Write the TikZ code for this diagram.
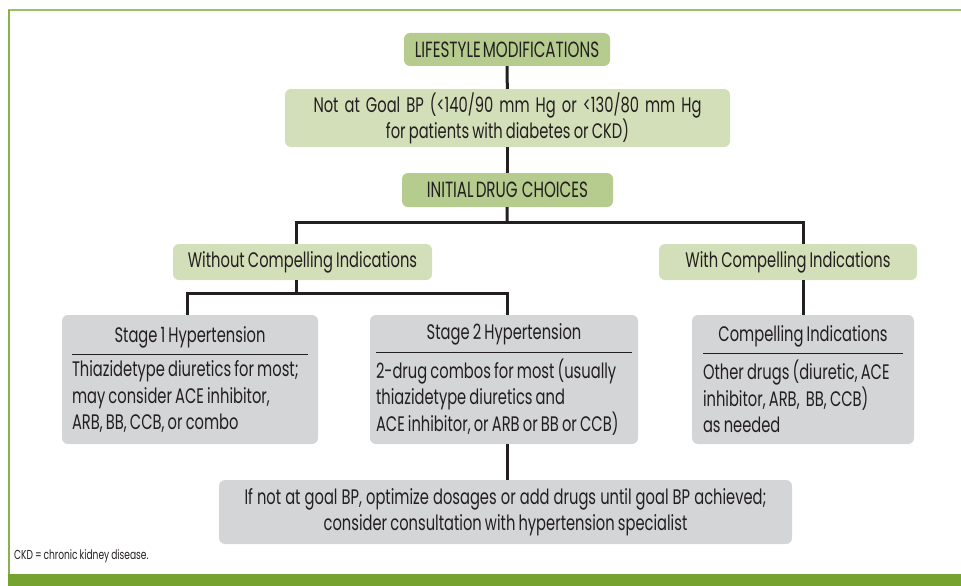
\documentclass[tikz,border=0pt]{standalone}
\usepackage{fontspec}
\setmainfont{Poppins}[FakeStretch=0.7, WordSpace=0.8]
\newfontfamily\capsfont{Poppins}[FakeStretch=0.69, WordSpace=0.5]
\usetikzlibrary{positioning,calc}

\definecolor{boxdark}{HTML}{B6CB8E}
\definecolor{boxlight}{HTML}{D3DFB8}
\definecolor{boxgray}{HTML}{D4D5D7}
\definecolor{inkcol}{HTML}{231F20}
\definecolor{frametop}{HTML}{9CC063}
\definecolor{frameband}{HTML}{76A22F}

\tikzset{
  darkbox/.style={fill=boxdark, rounded corners=6pt, inner sep=0pt, text=inkcol,
    font=\capsfont\fontsize{22}{24}\selectfont},
  lightbox/.style={fill=boxlight, rounded corners=6pt, inner sep=0pt, text=inkcol,
    align=center, font=\fontsize{21}{22.5}\selectfont},
  graybox/.style={fill=boxgray, rounded corners=6pt, inner sep=0pt, text=inkcol,
    align=flush left, font=\fontsize{21}{26.5}\selectfont},
  link/.style={draw=inkcol, line width=3pt},
}

% title over a rule, then the body text
\newcommand{\stagetext}[2]{%
  {\centering #1\par}\vspace{6pt}\hrule height 0.9pt\vspace{6pt}#2}

\begin{document}
\begin{tikzpicture}[x=1pt, y=-1pt]
    \useasboundingbox (0,0) rectangle (961,586);

    % frame
    \draw[frametop, line width=2pt] (8,10.5) -- (961,10.5);
    \draw[frameband!85!white, line width=2pt] (9,10) -- (9,575);
    \fill[frameband] (8,574) rectangle (961,586);

    % top chain
    \node[darkbox, minimum width=206, minimum height=33] (lifestyle) at (507,49.5) {LIFESTYLE MODIFICATIONS};
    \node[lightbox, minimum width=445, minimum height=58] (goal) at (507.5,118)
        {\makebox[388pt][s]{Not at Goal BP (<140/90 mm Hg or <130/80 mm Hg}\\for patients with diabetes or CKD)};
    \node[darkbox, minimum width=211, minimum height=34] (initial) at (507.5,190) {INITIAL DRUG\ \ CHOICES};

    % branches
    \node[lightbox, minimum width=259, minimum height=36] (without) at (302.5,262) {Without Compelling Indications};
    \node[lightbox, minimum width=258, minimum height=36] (with) at (788,262) {With Compelling Indications};

    \node[graybox, minimum width=256, minimum height=129, text width=236pt] (stageone) at (190,379.5)
        {\stagetext{Stage 1 Hypertension}{Thiazidetype diuretics for most;\\may consider ACE inhibitor,\\ARB, BB, CCB, or combo}};
    \node[graybox, minimum width=268, minimum height=129, text width=256pt] (stagetwo) at (504,379.5)
        {\stagetext{Stage 2 Hypertension}{2-drug combos for most (usually\\thiazidetype diuretics and\\ACE inhibitor, or ARB or BB or CCB)}};
    \node[graybox, minimum width=222, minimum height=129, text width=200pt] (compelling) at (803,379.5)
        {\stagetext{Compelling Indications}{Other drugs (diuretic, ACE\\inhibitor, ARB,\ \ BB, CCB)\\as needed}};

    \node[graybox, align=center, font=\fontsize{21}{26}\selectfont, minimum width=573, minimum height=64] (final) at (505.5,512)
        {\makebox[522pt][s]{If not at goal BP, optimize dosages or add drugs until goal BP achieved;}\\consider consultation with hypertension specialist};

    \node[anchor=west, inner sep=0pt, text=inkcol, font=\fontsize{13}{15}\selectfont] (note) at (14,556) {CKD = chronic kidney disease.};

    % connectors
    \coordinate (split) at (507,222);
    \coordinate (fork) at (296,293);
    \draw[link] (lifestyle) -- (goal);
    \draw[link] (goal) -- (initial);
    \draw[link] (initial) -- (split);
    \draw[link] (split) -| ([xshift=-6.5pt]without.north);
    \draw[link] (split) -| ([xshift=15pt]with.north);
    \draw[link] ([xshift=-6.5pt]without.south) -- (fork);
    \draw[link] (fork) -| ([xshift=-3pt]stageone.north);
    \draw[link] (fork) -| ([xshift=3pt]stagetwo.north);
    \draw[link] ([xshift=15pt]with.south) -- (compelling.north);
    \draw[link] ([xshift=3pt]stagetwo.south) -- ([xshift=1.5pt]final.north);
\end{tikzpicture}
\end{document}
